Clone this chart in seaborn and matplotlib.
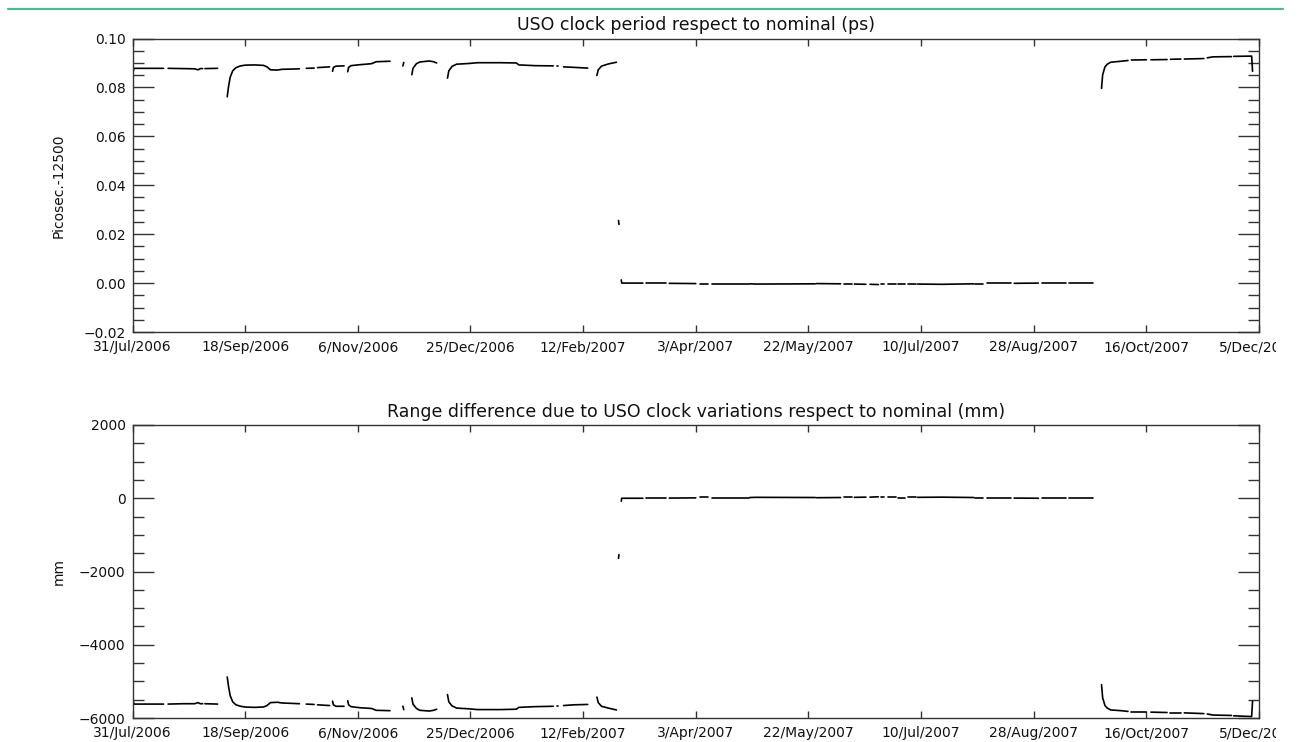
import numpy as np
import pandas as pd
import matplotlib
matplotlib.use("Agg")
import matplotlib.pyplot as plt
import seaborn as sns
from matplotlib.ticker import MultipleLocator, FuncFormatter
from matplotlib.lines import Line2D
from matplotlib.patches import Rectangle

# ---------------- data (days since 31/Jul/2006) ----------------
tick_labels = ["31/Jul/2006", "18/Sep/2006", "6/Nov/2006", "25/Dec/2006", "12/Feb/2007",
               "3/Apr/2007", "22/May/2007", "10/Jul/2007", "28/Aug/2007", "16/Oct/2007", "5/Dec/2007"]
tick_days = [0, 49, 98, 147, 196, 245, 294, 343, 392, 441, 490]

segment = [1, 1, 1, 1,
           2, 2, 2, 2, 2, 2,
           3, 3,
           4, 4, 4, 4, 4, 4, 4, 4, 4, 4, 4, 4, 4, 4, 4,
           5, 5,
           6, 6,
           7, 7, 7, 7,
           8, 8, 8, 8, 8, 8, 8, 8,
           9, 9,
           10, 10, 10, 10, 10, 10, 10,
           11, 11, 11, 11, 11, 11, 11, 11, 11, 11, 11,
           12, 12,
           13, 13, 13,
           14, 14, 14, 14, 14,
           15, 15,
           16, 16, 16,
           17, 17, 18, 18, 19, 19, 20, 20, 21, 21, 21, 22, 22, 23, 23, 24, 24,
           25, 25, 26, 26, 27, 27, 28, 28, 29, 29, 30, 30, 30, 31, 31, 32, 32,
           33, 33, 34, 34, 35, 35,
           36, 36, 36, 36, 36, 36, 36,
           37, 37, 38, 38, 39, 39, 40, 40,
           41, 41, 41,
           42, 42, 42]

days = [0, 0.6, 6, 13.5,
        15.5, 22, 27, 28.5, 29.5, 30.5,
        31.5, 37,
        41.2, 41.8, 42.5, 43.6, 45, 47, 49, 53, 57, 58.5, 60, 63, 65, 69, 72.6,
        75.6, 79,
        80.5, 85.7,
        87, 87.4, 88.5, 92,
        93.6, 94, 95, 99, 101.6, 104, 106, 112,
        117.6, 118,
        121.5, 122, 123.5, 125, 129, 131, 132.3,
        137, 137.6, 139, 141, 146.6, 150, 160, 167, 168, 175, 183,
        184.7, 185.2,
        187.5, 192, 198,
        202, 202.6, 204, 207, 210.5,
        211.4, 211.6,
        212.6, 212.8, 222,
        223.5, 232, 233.5, 245, 246.7, 250.4, 252, 268, 268.5, 271, 297, 297.5, 308, 309.5, 313, 314, 319,
        320.8, 324.4, 325.5, 327, 328.5, 332, 333, 336, 337.5, 341, 341.5, 352, 366, 366.5, 370, 371.5, 382,
        383.5, 394, 395.5, 406, 407.5, 418,
        421.5, 422, 423, 424, 425.5, 430, 433,
        434.5, 441, 443, 450, 451.5, 456, 457.5, 466,
        467.5, 470, 478,
        479, 486.8, 487.2]

period_ps = [0.0850, 0.0878, 0.0878, 0.0878,
             0.0878, 0.0877, 0.0876, 0.0872, 0.0877, 0.0877,
             0.0877, 0.0878,
             0.0762, 0.0805, 0.0842, 0.0868, 0.0881, 0.0888, 0.0891, 0.0892, 0.0890, 0.0884, 0.0872, 0.0871, 0.0874, 0.0875, 0.0876,
             0.0878, 0.0879,
             0.0881, 0.0884,
             0.0866, 0.0882, 0.0887, 0.0888,
             0.0864, 0.0882, 0.0889, 0.0893, 0.0895, 0.0897, 0.0905, 0.0907,
             0.0888, 0.0902,
             0.0852, 0.0878, 0.0897, 0.0904, 0.0908, 0.0905, 0.0900,
             0.0838, 0.0868, 0.0886, 0.0895, 0.0898, 0.0901, 0.0901, 0.0900, 0.0892, 0.0889, 0.0888,
             0.0888, 0.0888,
             0.0884, 0.0882, 0.0879,
             0.0849, 0.0872, 0.0887, 0.0896, 0.0903,
             0.0256, 0.0240,
             0.0013, 0.0000, 0.0000,
             -0.0001, -0.0001, -0.0001, -0.0002, -0.0004, -0.0004, -0.0002, -0.0002, -0.0003, -0.0004, -0.0003,
             -0.0002, -0.0003, -0.0004, -0.0004, -0.0004, -0.0005,
             -0.0005, -0.0006, -0.0004, -0.0004, -0.0004, -0.0004, -0.0003, -0.0003, -0.0004, -0.0004,
             -0.0004, -0.0005, -0.0003, -0.0002, -0.0002, -0.0001, -0.0001,
             -0.0001, 0.0000, 0.0000, 0.0000, 0.0000, 0.0000,
             0.0796, 0.0852, 0.0884, 0.0895, 0.0903, 0.0907, 0.0910,
             0.0912, 0.0913, 0.0913, 0.0914, 0.0915, 0.0916, 0.0916, 0.0918,
             0.0921, 0.0925, 0.0926,
             0.0927, 0.0928, 0.0866]

range_mm = [-5440, -5620, -5620, -5620,
            -5620, -5610, -5610, -5580, -5610, -5610,
            -5610, -5620,
            -4880, -5150, -5390, -5560, -5640, -5680, -5700, -5710, -5700, -5660, -5580, -5570, -5590, -5600, -5610,
            -5620, -5630,
            -5640, -5660,
            -5540, -5640, -5680, -5680,
            -5530, -5640, -5690, -5720, -5730, -5740, -5790, -5800,
            -5680, -5770,
            -5450, -5620, -5740, -5790, -5810, -5790, -5760,
            -5360, -5560, -5670, -5730, -5750, -5770, -5770, -5760, -5710, -5690, -5680,
            -5680, -5680,
            -5660, -5640, -5630,
            -5430, -5580, -5680, -5730, -5780,
            -1640, -1540,
            -80, 0, 0,
            5, 5, 5, 10, 25, 25, 15, 15, 20, 25, 20,
            15, 20, 25, 25, 25, 30,
            30, 40, 25, 25, 25, 25, 20, 20, 25, 25,
            25, 30, 20, 15, 15, 5, 5,
            5, 0, 0, 0, 0, 0,
            -5090, -5450, -5660, -5730, -5780, -5800, -5820,
            -5840, -5840, -5840, -5850, -5860, -5860, -5860, -5880,
            -5890, -5920, -5930,
            -5940, -5960, -5540]

top_title = "USO clock period respect to nominal (ps)"
bottom_title = "Range difference due to USO clock variations respect to nominal (mm)"
top_ylabel = "Picosec.-12500"
bottom_ylabel = "mm"

# ---------------- figure ----------------
sns.set_style("ticks")
plt.rcParams["font.family"] = ["DejaVu Sans"]

df = pd.DataFrame({"day": days, "period": period_ps, "range": range_mm, "seg": segment})

W, H = 1299, 742
fig = plt.figure(figsize=(W / 100, H / 100), dpi=100)
left = 132.5 / W
width = (1259 - 132.5) / W
ax1 = fig.add_axes([left, 1 - 332 / H, width, (332 - 38.5) / H])
ax2 = fig.add_axes([left, 1 - 718 / H, width, (718 - 425) / H])

sns.lineplot(data=df, x="day", y="period", units="seg", estimator=None, sort=False,
             color="black", lw=1.2, ax=ax1, legend=False)
sns.lineplot(data=df, x="day", y="range", units="seg", estimator=None, sort=False,
             color="black", lw=1.2, ax=ax2, legend=False)

frame_col = "#333333"


def fmt_dec(v, p):
    return f"{v:.2f}".replace("-", "\u2212")


def fmt_int(v, p):
    return f"{v:.0f}".replace("-", "\u2212")


def style(ax, ylim, major, minor, fmt, title, ylabel):
    ax.set_xlim(0, 490)
    ax.set_ylim(*ylim)
    ax.set_xticks(tick_days)
    ax.set_xticklabels(tick_labels)
    ax.yaxis.set_major_locator(MultipleLocator(major))
    ax.yaxis.set_minor_locator(MultipleLocator(minor))
    ax.yaxis.set_major_formatter(FuncFormatter(fmt))
    ax.tick_params(axis="x", which="major", direction="in", length=5, width=1,
                   top=True, bottom=True, pad=6, labelsize=10, colors=frame_col, labelcolor="#111111")
    ax.tick_params(axis="x", which="minor", top=False, bottom=False)
    ax.tick_params(axis="y", which="major", direction="in", length=15, width=1,
                   left=True, right=True, pad=5, labelsize=10, colors=frame_col, labelcolor="#111111")
    ax.tick_params(axis="y", which="minor", direction="in", length=8, width=1,
                   left=True, right=True, colors=frame_col)
    for s in ax.spines.values():
        s.set_visible(True)
        s.set_color(frame_col)
        s.set_linewidth(1.0)
    ax.set_title(title, fontsize=12.5, pad=6, color="#111111")
    ax.set_xlabel("")
    ax.set_ylabel(ylabel, fontsize=10, color="#111111")
    ax.yaxis.set_label_coords(-0.059, 0.5)


style(ax1, (-0.02, 0.10), 0.02, 0.005, fmt_dec, top_title, top_ylabel)
style(ax2, (-6000, 2000), 2000, 500, fmt_int, bottom_title, bottom_ylabel)

# the plotting window ends a little before the right edge of the picture
edge = 1276 / W
fig.add_artist(Rectangle((edge, 0), 1 - edge, 1, transform=fig.transFigure,
                         facecolor="white", edgecolor="none", zorder=20))
fig.add_artist(Line2D([8 / W, 1283 / W], [1 - 9 / H, 1 - 9 / H], transform=fig.transFigure,
                      color="#55b696", lw=1.6, zorder=21))

fig.savefig("out.png", dpi=100)
